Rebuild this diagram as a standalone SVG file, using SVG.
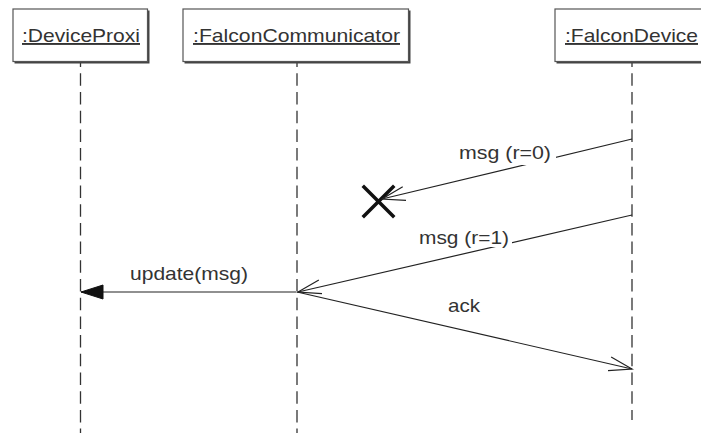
<svg xmlns="http://www.w3.org/2000/svg" width="701" height="433" viewBox="0 0 701 433">
<style>
  .lbl { font-family: "Liberation Sans", Arial, sans-serif; font-size: 19px; fill: #333; }
  .obj { text-decoration: underline; }
  .life { stroke: #333; stroke-width: 1.3; stroke-dasharray: 12.5 6.2; fill: none; }
  .box { fill: #fff; stroke: #555; stroke-width: 1.2; }
  .shadow { fill: #444; }
  .msg { stroke: #222; stroke-width: 1.2; fill: none; }
  .bg { fill: #fff; }
</style>
<defs>
  <marker id="open" markerUnits="userSpaceOnUse" viewBox="-26 -10 30 20" refX="0" refY="0" markerWidth="30" markerHeight="20" orient="auto" overflow="visible">
    <path d="M-23,-7 L0,0 L-23,7" fill="none" stroke="#222" stroke-width="1.2"/>
  </marker>
  <marker id="filled" markerUnits="userSpaceOnUse" viewBox="-26 -10 30 20" refX="0" refY="0" markerWidth="30" markerHeight="20" orient="auto" overflow="visible">
    <path d="M-22,-7 L0,0 L-22,7 Z" fill="#111" stroke="#111" stroke-width="1"/>
  </marker>
</defs>
<rect width="701" height="433" fill="#fff"/>

<g id="lifelines">
  <line class="life" x1="80.5" y1="54.6" x2="80.5" y2="433"/>
  <line class="life" x1="297" y1="54.6" x2="297" y2="433"/>
  <line class="life" x1="632" y1="54.6" x2="632" y2="420"/>
</g>

<g id="DeviceProxi">
  <rect class="shadow" x="14.5" y="10.5" width="135" height="53"/>
  <rect class="box" x="13" y="9" width="134.5" height="52.5"/>
  <text class="lbl obj" x="22" y="42" textLength="118" lengthAdjust="spacingAndGlyphs">:DeviceProxi</text>
</g>
<g id="FalconCommunicator">
  <rect class="shadow" x="184.5" y="10.5" width="226" height="53"/>
  <rect class="box" x="183" y="9" width="225.5" height="52.5"/>
  <text class="lbl obj" x="193" y="42" textLength="207" lengthAdjust="spacingAndGlyphs">:FalconCommunicator</text>
</g>
<g id="FalconDevice">
  <rect class="shadow" x="556.5" y="10.5" width="160" height="53"/>
  <rect class="box" x="555" y="9" width="160" height="52.5"/>
  <text class="lbl obj" x="565" y="42" textLength="133" lengthAdjust="spacingAndGlyphs">:FalconDevice</text>
</g>

<g id="destroy">
  <path d="M364,187 L393,216 M393,187 L364,216" stroke="#111" stroke-width="3.5" stroke-linecap="square" fill="none"/>
</g>

<g id="connectors">
  <line class="msg" x1="632" y1="139" x2="382" y2="199" marker-end="url(#open)"/>
  <rect class="bg" x="455" y="143" width="101" height="22"/>
  <text class="lbl" x="459" y="159" textLength="92" lengthAdjust="spacingAndGlyphs">msg (r=0)</text>

  <line class="msg" x1="632" y1="215" x2="298" y2="292" marker-end="url(#open)"/>
  <rect class="bg" x="415" y="227" width="97" height="20"/>
  <text class="lbl" x="419" y="244" textLength="90" lengthAdjust="spacingAndGlyphs">msg (r=1)</text>

  <line class="msg" x1="296" y1="292" x2="81" y2="292" marker-end="url(#filled)"/>
  <text class="lbl" x="130" y="280" textLength="118" lengthAdjust="spacingAndGlyphs">update(msg)</text>

  <line class="msg" x1="297" y1="292" x2="632" y2="369" marker-end="url(#open)"/>
  <text class="lbl" x="448" y="312" textLength="32" lengthAdjust="spacingAndGlyphs">ack</text>
</g>
</svg>
